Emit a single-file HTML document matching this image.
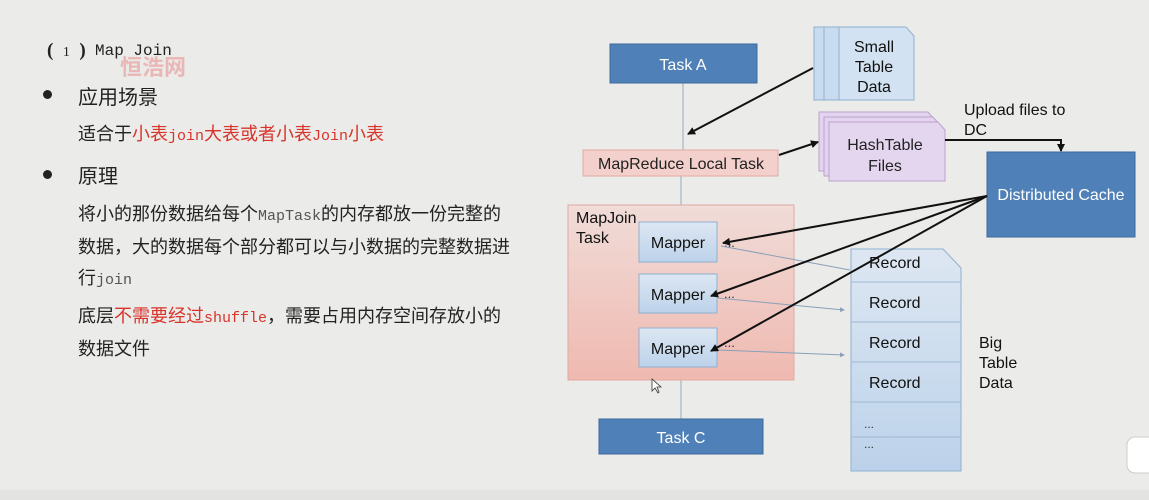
<!DOCTYPE html>
<html><head><meta charset="utf-8">
<style>
html,body{margin:0;padding:0;}
body{width:1149px;height:500px;background:#ebebe9;position:relative;overflow:hidden;font-family:"Liberation Sans","Noto Sans CJK SC",sans-serif;}
.t{position:absolute;white-space:nowrap;color:#222;}
.r{color:#d9342a;}
.m{font-family:"Liberation Mono","Noto Sans CJK SC",monospace;font-size:15px;}
.dot{position:absolute;width:9px;height:9px;border-radius:50%;background:#222;}
svg{position:absolute;left:0;top:0;}
</style></head><body>
<div class="t" style="left:47px;top:40px;font-size:19px;font-family:'Liberation Serif',serif;font-weight:bold;">(<span style="font-size:14px;font-weight:normal;display:inline-block;width:26px;text-align:center">1</span>)</div>
<div class="t" style="left:95px;top:42px;font-size:16px;font-family:'Liberation Mono',monospace;">Map Join</div>
<div class="t" style="left:120px;top:50px;font-size:22px;color:rgba(230,120,120,0.45);font-weight:bold;">恒浩网</div>
<div class="dot" style="left:43px;top:90px"></div>
<div class="t" style="left:78px;top:81px;font-size:20px;">应用场景</div>
<div class="t" style="left:78px;top:120px;font-size:18px;">适合于<span class="r">小表<span class="m">join</span>大表或者小表<span class="m">Join</span>小表</span></div>
<div class="dot" style="left:43px;top:170px"></div>
<div class="t" style="left:78px;top:160px;font-size:20px;">原理</div>
<div class="t" style="left:78px;top:200px;font-size:18px;">将小的那份数据给每个<span class="m" style="color:#555">MapTask</span>的内存都放一份完整的</div>
<div class="t" style="left:78px;top:233px;font-size:18px;">数据，大的数据每个部分都可以与小数据的完整数据进</div>
<div class="t" style="left:78px;top:264px;font-size:18px;">行<span class="m" style="color:#555">join</span></div>
<div class="t" style="left:78px;top:302px;font-size:18px;">底层<span class="r">不需要经过<span class="m">shuffle</span></span>，需要占用内存空间存放小的</div>
<div class="t" style="left:78px;top:335px;font-size:18px;">数据文件</div>

<svg width="1149" height="500" viewBox="0 0 1149 500" font-family="Liberation Sans, sans-serif">
<defs>
<marker id="ah" markerWidth="8" markerHeight="8" refX="7" refY="4" orient="auto" markerUnits="userSpaceOnUse"><path d="M0,0 L8,4 L0,8 z" fill="#111"/></marker>
<marker id="as" markerWidth="5" markerHeight="5" refX="4" refY="2.5" orient="auto" markerUnits="userSpaceOnUse"><path d="M0,0 L5,2.5 L0,5 z" fill="#8aa0b8"/></marker>
<linearGradient id="pk" x1="0" y1="0" x2="0" y2="1"><stop offset="0" stop-color="#f0dcd8"/><stop offset="1" stop-color="#efb9b0"/></linearGradient>
<linearGradient id="bl" x1="0" y1="0" x2="0" y2="1"><stop offset="0" stop-color="#dde7f2"/><stop offset="1" stop-color="#bcd2ea"/></linearGradient>
</defs>
<line x1="683" y1="83" x2="683" y2="150" stroke="#9ab" stroke-width="1"/>
<line x1="681" y1="176" x2="681" y2="205" stroke="#9ab" stroke-width="1"/>
<line x1="681" y1="380" x2="681" y2="419" stroke="#9ab" stroke-width="1"/>
<rect x="610" y="44" width="147" height="39" fill="#4f81b8" stroke="#3b6a9c"/>
<text x="683" y="70" font-size="16" fill="#fff" text-anchor="middle">Task A</text>
<rect x="814" y="27" width="80" height="73" fill="#c9dcef" stroke="#8fb0d0"/>
<rect x="824" y="27" width="80" height="73" fill="#c9dcef" stroke="#8fb0d0"/>
<path d="M839,27 H906 L914,36 V100 H839 Z" fill="#d2e2f2" stroke="#8fb0d0"/>
<text font-size="16" fill="#111" text-anchor="middle"><tspan x="874" y="52">Small</tspan><tspan x="874" y="72">Table</tspan><tspan x="874" y="92">Data</tspan></text>
<rect x="583" y="150" width="195" height="26" fill="#f3d0cb" stroke="#e0aaa2"/>
<text x="681" y="169" font-size="16" fill="#222" text-anchor="middle">MapReduce Local Task</text>
<path d="M819,112 H928 L935,120 V171 H819 Z" fill="#e3d3ee" stroke="#b9a3cc"/>
<path d="M824,117 H933 L940,125 V176 H824 Z" fill="#e3d3ee" stroke="#b9a3cc"/>
<path d="M829,122 H938 L945,130 V181 H829 Z" fill="#e5d6f0" stroke="#b9a3cc"/>
<text font-size="16" fill="#222" text-anchor="middle"><tspan x="885" y="150">HashTable</tspan><tspan x="885" y="171">Files</tspan></text>
<text font-size="16" fill="#111"><tspan x="964" y="115">Upload files to</tspan><tspan x="964" y="135">DC</tspan></text>
<polyline points="945,140 1061,140 1061,151" fill="none" stroke="#111" stroke-width="2" marker-end="url(#ah)"/>
<rect x="987" y="152" width="148" height="85" fill="#4f81b8" stroke="#3b6a9c"/>
<text x="1061" y="200" font-size="16" fill="#fff" text-anchor="middle">Distributed Cache</text>
<rect x="568" y="205" width="226" height="175" fill="url(#pk)" stroke="#e0aaa2"/>
<text font-size="16" fill="#111"><tspan x="576" y="223">MapJoin</tspan><tspan x="576" y="243">Task</tspan></text>
<rect x="639" y="222" width="78" height="40" fill="url(#bl)" stroke="#8fb0d0"/>
<rect x="639" y="274" width="78" height="39" fill="url(#bl)" stroke="#8fb0d0"/>
<rect x="639" y="328" width="78" height="39" fill="url(#bl)" stroke="#8fb0d0"/>
<text font-size="16" fill="#111" text-anchor="middle"><tspan x="678" y="248">Mapper</tspan><tspan x="678" y="300">Mapper</tspan><tspan x="678" y="354">Mapper</tspan></text>
<text font-size="13" fill="#333"><tspan x="724" y="247">...</tspan><tspan x="724" y="298">...</tspan><tspan x="724" y="347">...</tspan></text>
<rect x="599" y="419" width="164" height="35" fill="#4f81b8" stroke="#3b6a9c"/>
<text x="681" y="443" font-size="16" fill="#fff" text-anchor="middle">Task C</text>
<path d="M851,249 H943 L961,268 V471 H851 Z" fill="url(#bl)" stroke="#8fb0d0"/>
<g stroke="#9fb9d3"><line x1="851" y1="282" x2="961" y2="282"/><line x1="851" y1="322" x2="961" y2="322"/><line x1="851" y1="362" x2="961" y2="362"/><line x1="851" y1="402" x2="961" y2="402"/><line x1="851" y1="437" x2="961" y2="437"/></g>
<text font-size="16" fill="#111"><tspan x="869" y="268">Record</tspan><tspan x="869" y="308">Record</tspan><tspan x="869" y="348">Record</tspan><tspan x="869" y="388">Record</tspan></text>
<text font-size="12" fill="#333"><tspan x="864" y="428">...</tspan><tspan x="864" y="448">...</tspan></text>
<text font-size="16" fill="#111"><tspan x="979" y="348">Big</tspan><tspan x="979" y="368">Table</tspan><tspan x="979" y="388">Data</tspan></text>
<line x1="721" y1="246" x2="850" y2="270" stroke="#8aa0b8" stroke-width="1"/>
<line x1="718" y1="298" x2="844" y2="310" stroke="#8aa0b8" stroke-width="1" marker-end="url(#as)"/>
<line x1="718" y1="350" x2="844" y2="355" stroke="#8aa0b8" stroke-width="1" marker-end="url(#as)"/>
<line x1="813" y1="68" x2="688" y2="134" stroke="#111" stroke-width="2" marker-end="url(#ah)"/>
<line x1="779" y1="155" x2="818" y2="142" stroke="#111" stroke-width="2" marker-end="url(#ah)"/>
<line x1="987" y1="196" x2="723" y2="243" stroke="#111" stroke-width="2" marker-end="url(#ah)"/>
<line x1="987" y1="196" x2="711" y2="296" stroke="#111" stroke-width="2" marker-end="url(#ah)"/>
<line x1="987" y1="196" x2="711" y2="351" stroke="#111" stroke-width="2" marker-end="url(#ah)"/>
<path d="M652,379 L652,391 L655,388 L658,393 L659,392 L657,387 L661,387 Z" fill="#fff" stroke="#333" stroke-width="0.8"/>
<rect x="1127" y="437" width="40" height="36" rx="8" fill="#fff" stroke="#ccc"/>
<rect x="0" y="490" width="1149" height="10" fill="#e3e3e1"/>
</svg>
</body></html>
